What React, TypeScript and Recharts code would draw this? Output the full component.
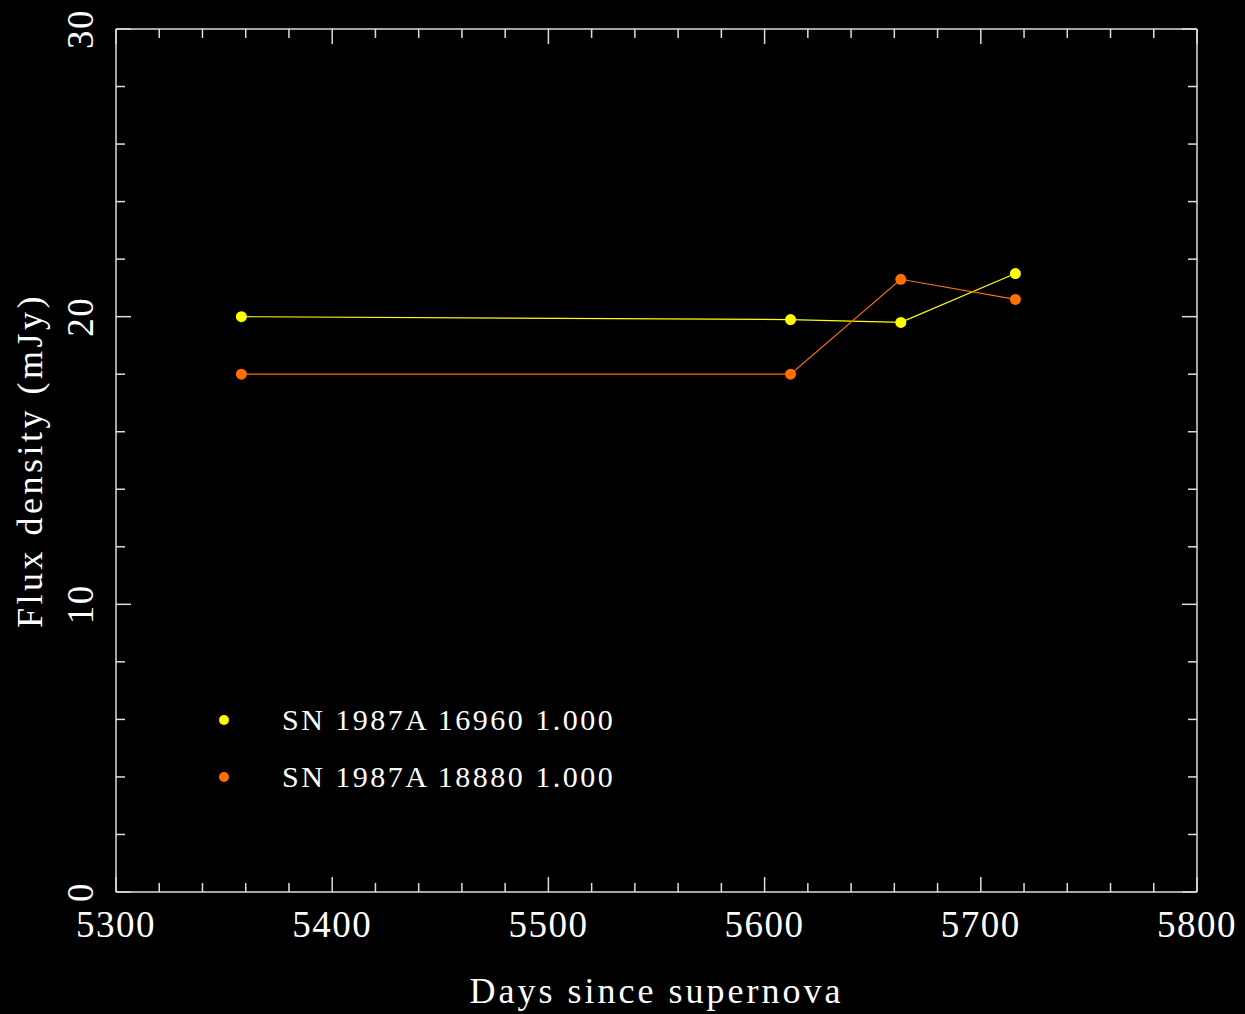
import React from "react";
import { LineChart, Line, XAxis, YAxis, Legend, Label } from "recharts";

const days = [5358, 5612, 5663, 5716];
const flux16960 = [20.0, 19.9, 19.8, 21.5];
const flux18880 = [18.0, 18.0, 21.3, 20.6];

const seriesNames = ["SN 1987A 16960 1.000", "SN 1987A 18880 1.000"];
const seriesColors = ["#ffff00", "#ff7000"];

const xTicks = [5300, 5320, 5340, 5360, 5380, 5400, 5420, 5440, 5460, 5480, 5500, 5520, 5540, 5560, 5580, 5600, 5620, 5640, 5660, 5680, 5700, 5720, 5740, 5760, 5780, 5800];
const yTicks = [0, 2, 4, 6, 8, 10, 12, 14, 16, 18, 20, 22, 24, 26, 28, 30];

// both axis pairs share the same domain; the second series is bound to the
// top/right pair so those frame axes get drawn too
const series = [flux16960, flux18880].map((vals, i) => ({
  name: seriesNames[i],
  color: seriesColors[i],
  xAxisId: i === 0 ? "bottom" : "top",
  yAxisId: i === 0 ? "left" : "right",
  data: days.map((d, j) => ({ day: d, flux: vals[j] })),
}));

const FONT = "'Liberation Serif', serif";
const AXIS = "#dddddd";

const XTick = (props: any) => {
  const { x, y, payload, side } = props;
  const major = payload.value % 100 === 0;
  const len = major ? 15 : 9;
  const dir = side === "top" ? 1 : -1;
  return (
    <g>
      <line x1={x} x2={x} y1={y} y2={y + dir * len} stroke={AXIS} strokeWidth={1.5} />
      {side === "bottom" && major && (
        <text x={x} y={y + 45} textAnchor="middle" fill="#fff" fontFamily={FONT} fontSize={37} letterSpacing={1.5}>
          {payload.value}
        </text>
      )}
    </g>
  );
};

const YTick = (props: any) => {
  const { x, y, payload, side } = props;
  const major = payload.value % 10 === 0;
  const len = major ? 15 : 9;
  const dir = side === "left" ? 1 : -1;
  return (
    <g>
      <line x1={x} x2={x + dir * len} y1={y} y2={y} stroke={AXIS} strokeWidth={1.5} />
      {side === "left" && major && (
        <text
          x={93}
          y={y}
          transform={`rotate(-90, 93, ${y})`}
          textAnchor="middle"
          fill="#fff"
          fontFamily={FONT}
          fontSize={37}
          letterSpacing={1.5}
        >
          {payload.value}
        </text>
      )}
    </g>
  );
};

const renderLegend = () => (
  <div style={{ fontFamily: FONT }}>
    {series.map((s) => (
      <div key={s.name} style={{ display: "flex", alignItems: "center", height: 57 }}>
        <span style={{ width: 10, height: 10, borderRadius: "50%", background: s.color, display: "inline-block" }} />
        <span style={{ marginLeft: 53, color: "#fff", fontSize: 30, letterSpacing: 2.5, whiteSpace: "nowrap" }}>
          {s.name}
        </span>
      </div>
    ))}
  </div>
);

export default function App() {
  return (
    <div style={{ position: "fixed", left: 0, top: 0, width: 1245, height: 1014, background: "#000" }}>
      <LineChart width={1245} height={1014} margin={{ top: 28, right: 47, bottom: 0, left: 0 }}>
        <XAxis
          xAxisId="bottom"
          dataKey="day"
          type="number"
          domain={[5300, 5800]}
          ticks={xTicks}
          interval={0}
          height={122}
          tickSize={0}
          tickMargin={0}
          tickLine={false}
          axisLine={{ stroke: AXIS, strokeWidth: 1.5 }}
          tick={<XTick side="bottom" />}
          allowDataOverflow
        >
          <Label
            content={(p: any) => (
              <text
                x={p.viewBox.x + p.viewBox.width / 2}
                y={p.viewBox.y + 111}
                textAnchor="middle"
                fill="#fff"
                fontFamily={FONT}
                fontSize={36}
                letterSpacing={3}
              >
                Days since supernova
              </text>
            )}
          />
        </XAxis>
        <XAxis
          xAxisId="top"
          orientation="top"
          dataKey="day"
          type="number"
          domain={[5300, 5800]}
          ticks={xTicks}
          interval={0}
          height={1}
          tickSize={0}
          tickMargin={0}
          tickLine={false}
          axisLine={{ stroke: AXIS, strokeWidth: 1.5 }}
          tick={<XTick side="top" />}
          allowDataOverflow
        />
        <YAxis
          yAxisId="left"
          type="number"
          domain={[0, 30]}
          ticks={yTicks}
          interval={0}
          width={116}
          tickSize={0}
          tickMargin={0}
          tickLine={false}
          axisLine={{ stroke: AXIS, strokeWidth: 1.5 }}
          tick={<YTick side="left" />}
          allowDataOverflow
        >
          <Label
            content={(p: any) => {
              const cy = p.viewBox.y + p.viewBox.height / 2;
              return (
                <text
                  x={42}
                  y={cy}
                  transform={`rotate(-90, 42, ${cy})`}
                  textAnchor="middle"
                  fill="#fff"
                  fontFamily={FONT}
                  fontSize={36}
                  letterSpacing={3.5}
                >
                  Flux density (mJy)
                </text>
              );
            }}
          />
        </YAxis>
        <YAxis
          yAxisId="right"
          orientation="right"
          type="number"
          domain={[0, 30]}
          ticks={yTicks}
          interval={0}
          width={1}
          tickSize={0}
          tickMargin={0}
          tickLine={false}
          axisLine={{ stroke: AXIS, strokeWidth: 1.5 }}
          tick={<YTick side="right" />}
          allowDataOverflow
        />
        <Legend
          layout="vertical"
          align="center"
          verticalAlign="middle"
          content={renderLegend}
          wrapperStyle={{ left: 219, top: 691, width: 420 }}
        />
        {series.map((s) => (
          <Line
            key={s.name}
            xAxisId={s.xAxisId}
            yAxisId={s.yAxisId}
            data={s.data}
            dataKey="flux"
            name={s.name}
            type="linear"
            stroke={s.color}
            strokeWidth={1.2}
            dot={{ r: 5.5, fill: s.color, stroke: "none" }}
            activeDot={false}
            isAnimationActive={false}
          />
        ))}
      </LineChart>
    </div>
  );
}
